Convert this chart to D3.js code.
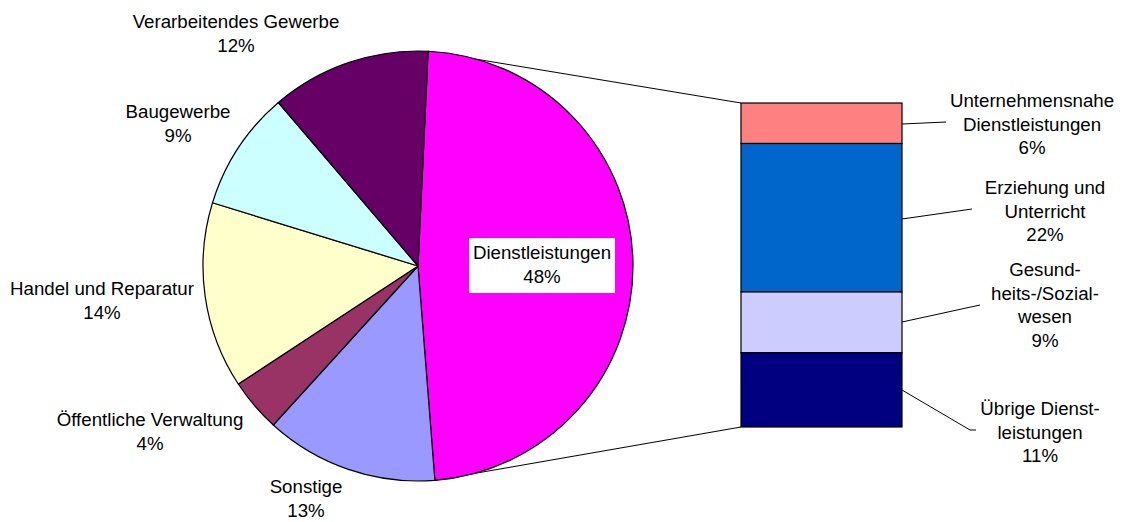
<!DOCTYPE html>
<html>
<head>
<meta charset="utf-8">
<script src="https://cdn.jsdelivr.net/npm/d3@7"></script>
<style>
  body { margin: 0; background: #fff; }
  svg { display: block; font-family: "Liberation Sans", Arial, sans-serif; }
</style>
</head>
<body>
<svg id="chart"></svg>
<script>
// pie slices, clockwise from the top
const pieCategories = ["Dienstleistungen", "Sonstige", "Öffentliche Verwaltung", "Handel und Reparatur", "Baugewerbe", "Verarbeitendes Gewerbe"];
const pieValues = [48, 13, 4, 14, 9, 12];
const pieColors = ["#FF00FF", "#9999FF", "#993366", "#FFFFCC", "#CCFFFF", "#660066"];

// breakdown of Dienstleistungen, top to bottom
const barCategories = [["Unternehmensnahe", "Dienstleistungen"], ["Erziehung und", "Unterricht"], ["Gesund-", "heits-/Sozial-", "wesen"], ["Übrige Dienst-", "leistungen"]];
const barValues = [6, 22, 9, 11];
const barColors = ["#FF8080", "#0066CC", "#CCCCFF", "#000080"];

const width = 1126, height = 522;
const cx = 418, cy = 266, r = 215;
const fontSize = 18.7, lineH = 23.5;

// label anchor points (layout only)
const pieLabelPos = [null, [306, 487], [150, 420], [102, 289], [178, 112], [236, 22]];
const barLabelPos = [[1032, 101], [1045, 188], [1045, 270], [1040, 409]];
const barLeaders = [
    [[902, 124], [946, 122]],
    [[902, 219], [972, 209]],
    [[902, 322], [980, 305]],
    [[902, 390], [970, 430], [976, 430]]
];

const svg = d3.select("#chart").attr("width", width).attr("height", height);

const startOffset = 2.7 * Math.PI / 180;
const pie = d3.pie().sort(null).startAngle(startOffset).endAngle(startOffset + 2 * Math.PI);
const arcs = pie(pieValues);
const arc = d3.arc().innerRadius(0).outerRadius(r);

// bar
const barX = 741, barW = 161;
const total = d3.sum(barValues);
const y = d3.scaleLinear().domain([0, total]).range([103, 427]);
const cum = d3.cumsum(barValues);

// connector lines from pie slice edges to bar corners
const d0 = arcs[0];
const pt = a => [cx + r * Math.sin(a), cy - r * Math.cos(a)];
const p1 = pt(d0.startAngle), p2 = pt(d0.endAngle);
svg.append("line").attr("x1", p1[0]).attr("y1", p1[1]).attr("x2", barX).attr("y2", y(0))
    .attr("stroke", "#000").attr("stroke-width", 1);
svg.append("line").attr("x1", p2[0]).attr("y1", p2[1]).attr("x2", barX).attr("y2", y(total))
    .attr("stroke", "#000").attr("stroke-width", 1);

const g = svg.append("g").attr("transform", `translate(${cx},${cy})`);
g.selectAll("path")
    .data(arcs)
    .enter()
    .append("path")
    .attr("d", arc)
    .attr("fill", (d, i) => pieColors[i])
    .attr("stroke", "#000")
    .attr("stroke-width", 1.2)
    .attr("stroke-linejoin", "round");

svg.selectAll("rect.seg")
    .data(barValues)
    .enter()
    .append("rect")
    .attr("class", "seg")
    .attr("x", barX)
    .attr("y", (d, i) => y(cum[i] - d))
    .attr("width", barW)
    .attr("height", d => y(d) - y(0))
    .attr("fill", (d, i) => barColors[i])
    .attr("stroke", "#000")
    .attr("stroke-width", 1.2);

function multiLine(lines, x, y0) {
    const t = svg.append("text")
        .attr("text-anchor", "middle")
        .attr("font-size", fontSize)
        .attr("fill", "#000");
    lines.forEach((s, i) => {
        t.append("tspan").attr("x", x).attr("y", y0 + i * lineH).attr("dy", "0.33em").text(s);
    });
    return t;
}

// pie labels
arcs.forEach((d, i) => {
    if (i === 0) return;
    const p = pieLabelPos[i];
    multiLine([pieCategories[i], pieValues[i] + "%"], p[0], p[1]);
});

// Dienstleistungen label in a white box
const lbX = 542, lbY = 253;
svg.append("rect").attr("x", lbX - 73).attr("y", lbY - 15).attr("width", 146).attr("height", 55)
    .attr("fill", "#fff");
multiLine([pieCategories[0], pieValues[0] + "%"], lbX, lbY);

// bar labels + leader lines
barValues.forEach((v, i) => {
    const p = barLabelPos[i];
    multiLine(barCategories[i].concat([v + "%"]), p[0], p[1]);
    svg.append("path")
        .attr("d", d3.line()(barLeaders[i]))
        .attr("fill", "none")
        .attr("stroke", "#000")
        .attr("stroke-width", 1);
});
</script>
</body>
</html>
